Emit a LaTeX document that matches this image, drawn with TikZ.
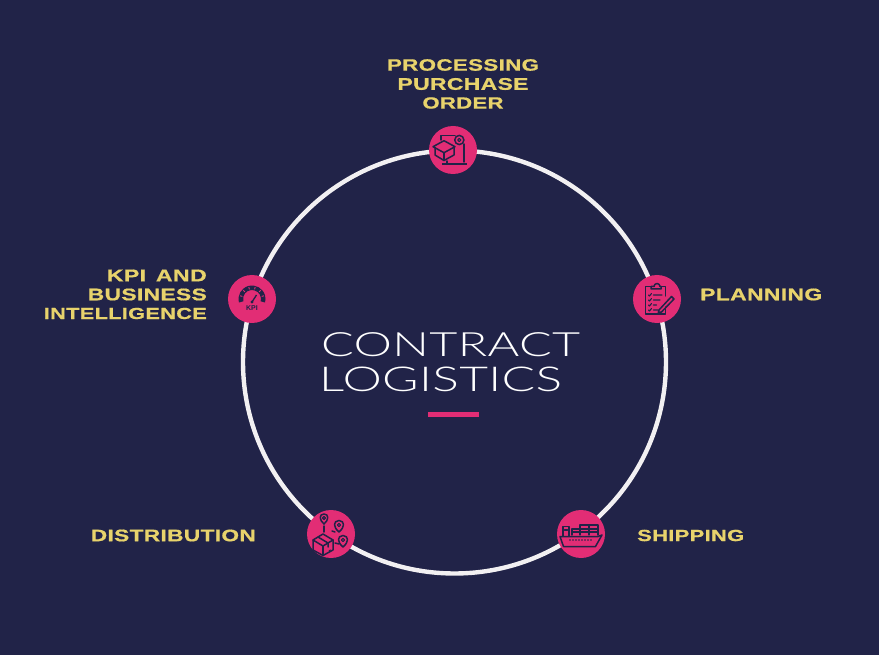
\documentclass[tikz,border=0pt]{standalone}
\usepackage{fontspec}
\usepackage{graphicx}
\setmainfont{Liberation Sans}
\newfontfamily\labfont[FakeStretch=1.36,FakeBold=0.8,LetterSpace=2]{Liberation Sans Bold}
\newfontfamily\titfont[FakeStretch=1.45,LetterSpace=1]{Lato Light}
\newfontfamily\kpifont{Liberation Sans Bold}
\newcommand{\lw}[2]{\resizebox{#1pt}{!}{#2}}
\definecolor{bgc}{HTML}{212348}
\definecolor{pinkc}{HTML}{E22D75}
\definecolor{yelc}{HTML}{E8D36C}
\definecolor{ringc}{HTML}{F2F0F2}
\tikzset{
  stage/.style={circle,fill=pinkc,minimum size=48pt,inner sep=0pt},
  lab/.style={text=yelc,font=\labfont\fontsize{17}{19}\selectfont,inner sep=0pt},
  tit/.style={text=white,font=\titfont\fontsize{34}{36}\selectfont,inner sep=0pt,anchor=west},
  ico/.style={draw=bgc,line width=1.5pt,line join=round,line cap=round},
  thinico/.style={draw=bgc,line width=1.1pt,line join=round,line cap=round}
}
\begin{document}
\begin{tikzpicture}[x=1pt,y=-1pt]
\useasboundingbox (0,0) rectangle (879,655);
\fill[bgc] (0,0) rectangle (879,655);
\node[circle,draw=ringc,line width=4.4pt,minimum size=423pt,inner sep=0pt] (ring) at (454.5,362) {};
\node[stage] (order) at (453,150) {};
\node[stage] (plan) at (657,299) {};
\node[stage] (ship) at (581,534) {};
\node[stage] (dist) at (331,534) {};
\node[stage] (kpi) at (252,299) {};
% labels
\node[lab] (l1a) at (463,65) {\lw{152}{PROCESSING}};
\node[lab] (l1b) at (463,84) {\lw{131}{PURCHASE}};
\node[lab] (l1c) at (463,103) {\lw{81}{ORDER}};
\node[lab,anchor=west] (l2) at (700,294.5) {\lw{122}{PLANNING}};
\node[lab,anchor=west] (l3) at (637,535.5) {\lw{107}{SHIPPING}};
\node[lab,anchor=east] (l4) at (256,535.5) {\lw{165}{DISTRIBUTION}};
\node[lab,anchor=east] (l5a) at (207,275.5) {\lw{100}{KPI\hspace{3pt} AND}};
\node[lab,anchor=east] (l5b) at (207,294.5) {\lw{119}{BUSINESS}};
\node[lab,anchor=east] (l5c) at (207,313.5) {\lw{163}{INTELLIGENCE}};
\node[tit] (t1) at (321,344.5) {\lw{259}{CONTRACT}};
\node[tit] (t2) at (319,379.5) {\lw{243}{LOGISTICS}};
\fill[pinkc] (428,412) rectangle (479,416.5);
% order icon
\begin{scope}[shift={(order.center)}]
\draw[ico] (-9,-9.3) -- (-20,-3.3) -- (-9,2.7) -- (2,-3.3) -- cycle;
\draw[ico] (-18,-2.5) -- (-18,5) -- (-9,10.5) -- (1,5) -- (1,-2.5);
\draw[ico] (-9,2.7) -- (-9,10.5);
\draw[ico] (-12,-10) -- (-12,-14.3) -- (2,-14.3);
\draw[ico] (11,-6) -- (11,12);
\draw[ico] (6.3,-10) circle (4.6);
\draw[thinico] (6.3,-10) circle (1.6);
\draw[bgc,line width=2.2pt] (-11,13.8) -- (14,13.8);
\draw[ico] (-6,11) -- (-6,13);
\end{scope}
% planning icon
\begin{scope}[shift={(plan.center)}]
\draw[ico] (-3,-12.5) -- (-11.5,-12.5) -- (-11.5,15.2) -- (8.7,15.2) -- (8.7,8);
\draw[ico] (8.7,-3) -- (8.7,-12.5) -- (3,-12.5);
\draw[ico] (-6,-10) -- (-6,-12.5) -- (-3,-12.5) arc (180:360:3 and 3) -- (4,-12.5) -- (4,-10) -- cycle;
\draw[thinico] (-8.5,-4) -- (-7.5,-3) -- (-5.5,-5.5) (-3.5,-4) -- (5,-4);
\draw[thinico] (-8.5,1) -- (-7.5,2) -- (-5.5,-.5) (-3.5,1) -- (3,1);
\draw[thinico] (-8.5,6) -- (-7.5,7) -- (-5.5,4.5) (-3.5,6) -- (-.5,6);
\draw[thinico] (-8.5,11) -- (-7.5,12) -- (-5.5,9.5) (-3.5,11) -- (1,11);
\draw[ico] (2,11) -- (14.5,-2.5) -- (17,0) -- (4.5,13) -- (1.3,13.5) -- cycle;
\end{scope}
% ship icon
\begin{scope}[shift={(ship.center)}]
\draw[ico] (-21,2.5) -- (-17.5,12.5) -- (14.5,12.5) -- (21,1) -- (17,2.5) -- cycle;
\draw[ico] (-18,2) -- (-18,-7.5) -- (-12,-7.5) -- (-12,2);
\draw[thinico] (-16.5,-4) -- (-13.5,-4);
\draw[ico] (-9,1) -- (-9,-5) -- (17,-5) -- (17,1);
\draw[ico] (-1,-5) -- (-1,-9) -- (17,-9) -- (17,-5);
\draw[thinico] (-9,-2) -- (17,-2) (-1,-5) -- (-1,1) (8,-9) -- (8,1);
\foreach \x in {-11,-8,-5,-2,1,4,7,10}
  \fill[bgc] (\x,6) circle (.8);
\end{scope}
% distribution icon
\begin{scope}[shift={(dist.center)}]
\draw[ico] (-8,0) -- (-18,6) -- (-8,12) -- (2,6) -- cycle;
\draw[ico] (-18,6) -- (-18,16) -- (-8,21.5) -- (2,16) -- (2,6);
\draw[ico] (-8,12) -- (-8,21.5);
\draw[ico] (-13,3) -- (-3,9) -- (-3,13);
\draw[thinico] (-2,17) -- (-.5,16);
\draw[ico] (-7,-10) .. controls (-12,-14) and (-12,-20) .. (-7,-20) .. controls (-2,-20) and (-2,-14) .. (-7,-10) -- cycle;
\draw[thinico] (-7,-16) circle (1.5);
\draw[ico] (-7,-8) -- (-7,-2);
\draw[ico] (8,-2) .. controls (2,-7) and (2,-13) .. (8,-13.5) .. controls (14,-13) and (14,-7) .. (8,-2) -- cycle;
\draw[thinico] (8,-9) circle (1.6);
\draw[ico] (1,-3) -- (4,-2);
\draw[ico] (12,13) .. controls (6,8) and (6,2) .. (12,1.5) .. controls (18,2) and (18,8) .. (12,13) -- cycle;
\draw[thinico] (12,6) circle (1.6);
\draw[ico] (4,9) -- (8,10);
\end{scope}
% KPI icon
\begin{scope}[shift={(kpi.center)}]
\fill[bgc] (165:13.5) arc (165:375:13.5) -- (15:9) arc (375:165:9) -- cycle;
\foreach \a in {195,225,255,285,315,345}
  \draw[draw=pinkc,line width=.9pt] (\a:10) -- (\a:12.3);
\fill[bgc] (0,3) circle (1.6);
\draw[bgc,line width=1.3pt] (0,3) -- (4.5,-4);
\node[text=bgc,font=\kpifont\fontsize{7}{7}\selectfont,inner sep=0pt] (kpit) at (0,9) {KPI};
\end{scope}
\end{tikzpicture}
\end{document}
